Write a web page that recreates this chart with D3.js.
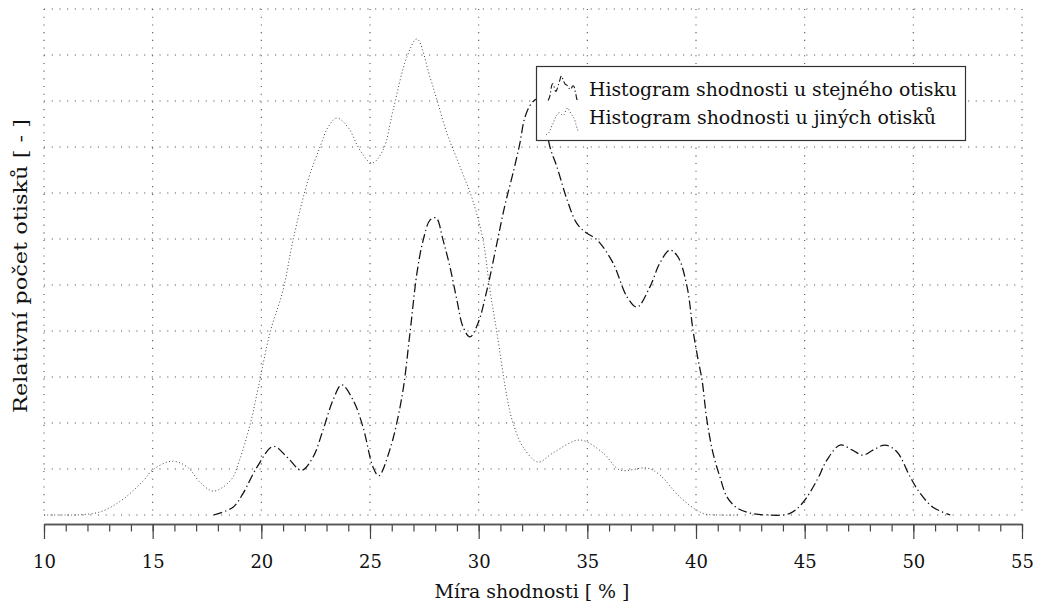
<!DOCTYPE html>
<html>
<head>
<meta charset="utf-8">
<script src="https://cdn.jsdelivr.net/npm/d3@7"></script>
<style>
  html, body { margin: 0; padding: 0; background: #fff; }
  svg { display: block; }
  text { font-family: "DejaVu Serif", "Liberation Serif", serif; fill: #111; }
</style>
</head>
<body>
<svg id="chart" width="1040" height="610"></svg>
<script>
// ---- data ----
const xLabel = "Míra shodnosti [ % ]";
const yLabel = "Relativní počet otisků [ - ]";
const seriesNames = ["Histogram shodnosti u stejného otisku", "Histogram shodnosti u jiných otisků"];
const tickLabels = [10, 15, 20, 25, 30, 35, 40, 45, 50, 55];
const minorTicks = [10,11,12,13,14,15,16,17,18,19,20,21,22,23,24,25,26,27,28,29,30,31,32,33,34,35,36,37,38,39,40,41,42,43,44,45,46,47,48,49,50,51,52,53,54,55];
const yGrid = [0,1,2,3,4,5,6,7,8,9,10,11];

// same fingerprint (dash-dot)
const sameX = [17.8,18.7,19.16,19.8,20.55,21.2,21.85,22.38,22.84,23.3,23.7,24.22,24.68,25.14,25.4,25.9,26.47,26.84,27.16,27.45,27.76,28.04,28.36,28.68,29.0,29.28,29.6,29.97,30.38,30.84,31.21,31.58,31.9,32.13,32.45,32.75,33.0,33.28,33.6,34.07,34.5,34.9,35.45,36.18,36.83,37.29,37.88,38.34,38.8,39.17,39.59,39.86,40.1,40.28,40.5,40.78,41.1,41.43,41.9,42.5,43.3,44.3,44.9,45.57,46.03,46.63,47.2,47.68,48.14,48.7,49.25,49.85,50.3,50.9,51.7];
const sameY = [0,0.17,0.47,1.04,1.49,1.25,0.97,1.26,1.85,2.5,2.83,2.5,1.91,1.04,0.85,1.4,2.57,3.96,5.26,5.98,6.41,6.46,5.98,5.39,4.67,4.09,3.87,4.17,4.89,5.91,6.74,7.43,8.09,8.65,8.96,9.05,8.7,8.0,7.57,6.85,6.35,6.15,5.98,5.48,4.74,4.52,4.96,5.48,5.76,5.61,4.96,4.02,3.37,2.93,2.07,1.35,0.83,0.39,0.15,0.04,0,0.03,0.26,0.76,1.2,1.52,1.41,1.3,1.41,1.52,1.37,0.83,0.48,0.17,0];

// other fingerprints (dotted)
const otherX = [10,11,11.5,12.6,13.6,14.6,15.0,15.9,16.6,17.2,17.8,18.6,19.0,19.5,19.85,20.4,21.0,21.46,22.15,22.7,23.07,23.48,24.0,24.54,25.09,25.6,26.06,26.7,27.16,27.76,28.08,28.54,29.14,29.7,30.2,30.52,30.84,31.3,31.58,32.04,32.73,33.42,34.66,35.72,36.5,37.75,38.34,39.26,40.3,41.1,42];
const otherY = [0,0,0,0.07,0.33,0.76,0.98,1.17,1.04,0.7,0.52,0.76,1.2,2.0,2.75,3.96,4.89,5.98,7.28,8.0,8.43,8.63,8.42,7.93,7.65,7.93,8.8,9.96,10.35,9.52,9.02,8.3,7.57,6.88,5.98,4.89,3.96,2.57,2.0,1.48,1.15,1.35,1.63,1.35,0.98,1.02,0.87,0.39,0.04,0,0];

// ---- drawing ----
const FONT = '"DejaVu Serif", "Liberation Serif", serif';
const svg = d3.select("#chart");
const x = d3.scaleLinear().domain([10, 55]).range([44, 1022]);
const y = d3.scaleLinear().domain([0, 11]).range([515, 9]);

const gridColor = "#555";
const g = svg.append("g");

// grid
g.selectAll("line.vg").data(tickLabels).enter().append("line")
  .attr("x1", d => x(d)).attr("x2", d => x(d))
  .attr("y1", y(11)).attr("y2", y(0))
  .attr("stroke", gridColor).attr("stroke-width", 1.1)
  .attr("stroke-dasharray", "1.1,6.6");
g.selectAll("line.hg").data(yGrid).enter().append("line")
  .attr("x1", x(10)).attr("x2", x(55))
  .attr("y1", d => y(d)).attr("y2", d => y(d))
  .attr("stroke", gridColor).attr("stroke-width", 1.1)
  .attr("stroke-dasharray", "1.1,6.6");

// series
const sameData = sameX.map((v, i) => [v, sameY[i]]);
const otherData = otherX.map((v, i) => [v, otherY[i]]);
const line = d3.line().x(d => x(d[0])).y(d => y(d[1])).curve(d3.curveCatmullRom.alpha(0.5));

const sameStyle = { stroke: "#111", width: 1.25, dash: "9,3.2,1.3,3.2" };
const otherStyle = { stroke: "#444", width: 1.0, dash: "1,2.4" };

g.append("path").datum(otherData).attr("d", line)
  .attr("fill", "none").attr("stroke", otherStyle.stroke)
  .attr("stroke-width", otherStyle.width).attr("stroke-dasharray", otherStyle.dash);
g.append("path").datum(sameData).attr("d", line)
  .attr("fill", "none").attr("stroke", sameStyle.stroke)
  .attr("stroke-width", sameStyle.width).attr("stroke-dasharray", sameStyle.dash);

// x axis
const axisY = 524;
const minorAxis = d3.axisBottom(x).tickValues(minorTicks).tickSize(7.5).tickSizeOuter(0).tickFormat("");
const majorAxis = d3.axisBottom(x).tickValues(tickLabels).tickSize(15).tickSizeOuter(0).tickPadding(16).tickFormat(d3.format("d"));
const ga1 = svg.append("g").attr("transform", `translate(0,${axisY})`).call(minorAxis);
const ga2 = svg.append("g").attr("transform", `translate(0,${axisY})`).call(majorAxis);
[ga1, ga2].forEach(a => {
  a.selectAll("path.domain").attr("stroke", "#555").attr("stroke-width", 1.3);
  a.selectAll(".tick line").attr("stroke", "#444").attr("stroke-width", 1.2);
});
ga2.selectAll(".tick text")
  .style("font-family", FONT)
  .style("font-size", "18px").attr("fill", "#111");

// axis labels
svg.append("text").attr("x", 532).attr("y", 598)
  .attr("text-anchor", "middle").style("font-size", "18px")
  .attr("textLength", 195).attr("lengthAdjust", "spacingAndGlyphs")
  .text(xLabel);
svg.append("text").attr("transform", "translate(27,266) rotate(-90)")
  .attr("text-anchor", "middle").style("font-size", "19px")
  .attr("textLength", 294).attr("lengthAdjust", "spacingAndGlyphs")
  .text(yLabel);

// legend
const lg = svg.append("g");
lg.append("rect").attr("x", 536.5).attr("y", 66.5).attr("width", 429).attr("height", 74)
  .attr("fill", "#fff").attr("stroke", "#333").attr("stroke-width", 1.2);

// legend icons: miniature renderings of each series
const miniSameX = d3.scaleLinear().domain([25.4, 41.4]).range([548, 578]);
const miniSameY = d3.scaleLinear().domain([0, 9.05]).range([103, 76]);
const miniOtherX = d3.scaleLinear().domain([17.8, 31.6]).range([546, 578]);
const miniOtherY = d3.scaleLinear().domain([0, 10.35]).range([136, 108]);
const miniSameLine = d3.line().x(d => miniSameX(d[0])).y(d => miniSameY(d[1])).curve(d3.curveCatmullRom.alpha(0.5));
const miniOtherLine = d3.line().x(d => miniOtherX(d[0])).y(d => miniOtherY(d[1])).curve(d3.curveCatmullRom.alpha(0.5));
lg.append("path").datum(sameData.filter(d => d[0] >= 25.4 && d[0] <= 41.4)).attr("d", miniSameLine)
  .attr("fill", "none").attr("stroke", sameStyle.stroke).attr("stroke-width", 1.1)
  .attr("stroke-dasharray", "6,2.5,1.2,2.5");
lg.append("path").datum(otherData.filter(d => d[0] >= 17.8 && d[0] <= 31.6)).attr("d", miniOtherLine)
  .attr("fill", "none").attr("stroke", otherStyle.stroke).attr("stroke-width", 1)
  .attr("stroke-dasharray", "1,2.2");

lg.append("text").attr("x", 589).attr("y", 96).style("font-size", "18px")
  .attr("textLength", 368).attr("lengthAdjust", "spacingAndGlyphs").text(seriesNames[0]);
lg.append("text").attr("x", 589).attr("y", 123.5).style("font-size", "18px")
  .attr("textLength", 347).attr("lengthAdjust", "spacingAndGlyphs").text(seriesNames[1]);
</script>
</body>
</html>
